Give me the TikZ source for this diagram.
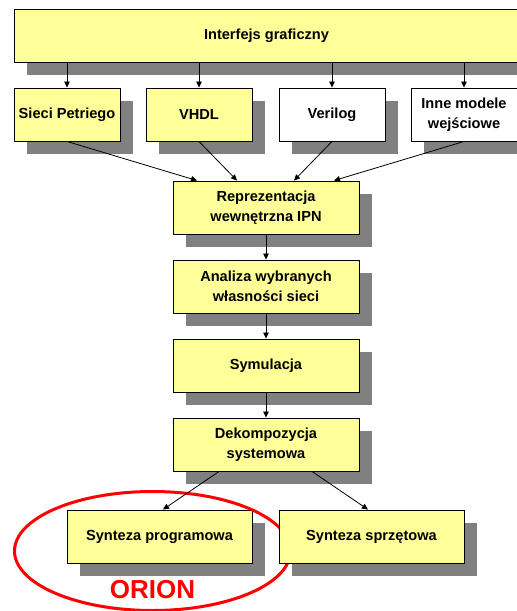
\documentclass[tikz,border=0pt]{standalone}
\usepackage{fontspec}
\setmainfont{Liberation Sans}
\usetikzlibrary{shadows,arrows.meta}

\definecolor{boxyellow}{HTML}{FFFF99}
\definecolor{shadowgray}{HTML}{808080}
\definecolor{orionred}{HTML}{FF0000}

\tikzset{
  block/.style={draw=black, line width=0.9pt, fill=boxyellow, inner sep=0pt,
    minimum height=53pt, align=center,
    font=\fontsize{14.6}{20}\selectfont\bfseries,
    drop shadow={shadow xshift=13pt, shadow yshift=-13pt, fill=shadowgray, opacity=1}},
  plainblock/.style={block, fill=white},
  flow/.style={line width=0.8pt, -{Triangle[length=6pt,width=5.5pt]}},
}

\begin{document}
\begin{tikzpicture}[x=1pt, y=-1pt]
  \useasboundingbox (0,0) rectangle (517,611);
  \clip (0,0) rectangle (517,611);

  % graphical front end
  \node[block, minimum width=505pt] (gui) at (266.5,35.5) {Interfejs graficzny};

  % input models
  \node[block, minimum width=106pt] (petri) at (67,114.5) {Sieci Petriego};
  \node[block, minimum width=106pt] (vhdl) at (199,114.5) {VHDL};
  \node[plainblock, minimum width=106pt] (verilog) at (332,114.5) {Verilog};
  \node[plainblock, minimum width=106pt] (other) at (464,114.5) {Inne modele\\wejściowe};

  % processing chain
  \node[block, minimum width=186pt] (ipn) at (266,207.5) {Reprezentacja\\wewnętrzna IPN};
  \node[block, minimum width=186pt] (anal) at (266,286.5) {Analiza wybranych\\własności sieci};
  \node[block, minimum width=186pt] (sim) at (266,365.5) {Symulacja};
  \node[block, minimum width=186pt] (dec) at (266,444.5) {Dekompozycja\\systemowa};

  % synthesis
  \node[block, minimum width=185pt] (soft) at (159.5,536.5) {Synteza programowa};

  % ORION marker around the software branch
  \draw[orionred, line width=3pt] (152.5,551) ellipse [x radius=138, y radius=59.5];
  \node[text=orionred, font=\fontsize{26}{28}\selectfont\bfseries, anchor=base, inner sep=0pt]
    (orion) at (152.5,598) {ORION};

  \node[block, minimum width=185pt] (hard) at (371.5,536.5) {Synteza sprzętowa};

  % connectors
  \foreach \n in {petri, vhdl, verilog, other}
    \draw[flow] (\n.north |- gui.south) -- (\n.north);

  \draw[flow] (petri.south) -- ([xshift=-69pt]ipn.north);
  \draw[flow] (vhdl.south) -- ([xshift=-29pt]ipn.north);
  \draw[flow] (verilog.south) -- ([xshift=28pt]ipn.north);
  \draw[flow] (other.south) -- ([xshift=68pt]ipn.north);

  \draw[flow] (ipn.south) -- (anal.north);
  \draw[flow] (anal.south) -- (sim.north);
  \draw[flow] (sim.south) -- (dec.north);

  \draw[flow] ([xshift=-47pt]dec.south) -- ([xshift=3.5pt]soft.north);
  \draw[flow] ([xshift=46pt]dec.south) -- ([xshift=-3.5pt]hard.north);
\end{tikzpicture}
\end{document}
